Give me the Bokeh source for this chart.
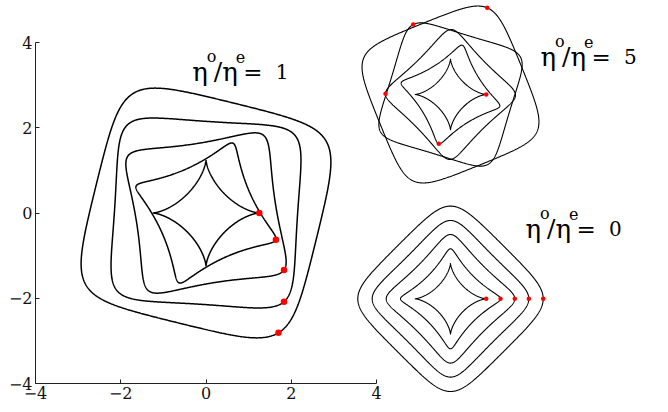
import numpy as np
from bokeh.plotting import figure
from bokeh.models import Range1d, FixedTicker
from bokeh.embed import file_html
from bokeh.resources import INLINE
from bokeh.core.properties import value

# ---------------- data ----------------
# tracked tip (red dot) of every contour, in each panel's own units
# (the innermost contour is an astroid of radius 1.25)
main_tip_x = [1.25, 1.64, 1.83, 1.83, 1.70]          # eta_o/eta_e = 1
main_tip_y = [0.00, -0.63, -1.34, -2.08, -2.81]
five_tip_x = [1.25, -0.41, -2.276, -1.306, 1.285]    # eta_o/eta_e = 5
five_tip_y = [0.00, -1.726, 0.025, 2.451, 3.036]
zero_tip_x = [1.25, 1.751, 2.251, 2.742, 3.246]      # eta_o/eta_e = 0
zero_tip_y = [0.00, 0.00, 0.00, 0.00, 0.00]
# cusp (e^{-3it}) coefficient of each contour
main_cusp = [0.3125, 0.3125, 0.3125, 0.3125, 0.3125]
five_cusp = [0.3125, 0.3125, 0.3125, 0.3125, 0.3125]
zero_cusp = [0.3125, 0.3125, 0.3125, 0.3125, 0.3125]

ratio_labels = ["1", "5", "0"]
x_ticks = [-4, -2, 0, 2, 4]
y_ticks = [-4, -2, 0, 2, 4]
tick_labels = ["\u22124", "\u22122", "0", "2", "4"]

# ---------------- layout ----------------
S = 42.625            # px per unit, main axes
X0 = 35               # screen column of x = -4
Y0 = 383              # screen row of y = -4
FW, FH = 668, 412
SI = 28.56            # px per unit, insets
FONT = "DejaVu Serif"

p = figure(frame_width=FW, frame_height=FH,
           x_range=Range1d(-4 - X0 / S, -4 + (FW - X0) / S),
           y_range=Range1d(-4 - (FH - Y0) / S, -4 + Y0 / S),
           output_backend="svg", toolbar_location=None,
           min_border_left=0, min_border_bottom=0, min_border_top=0, min_border_right=0)
p.outline_line_color = None
p.xgrid.visible = False
p.ygrid.visible = False
p.background_fill_color = "white"
p.border_fill_color = "white"

for ax, ticks in ((p.xaxis, x_ticks), (p.yaxis, y_ticks)):
    ax.bounds = (-4, 4)
    ax.fixed_location = -4
    ax.ticker = FixedTicker(ticks=ticks)
    ax.major_label_overrides = {t: l for t, l in zip(ticks, tick_labels)}
    ax.minor_tick_line_color = None
    ax.major_tick_in = 4
    ax.major_tick_out = 0
    ax.axis_line_color = "#222222"
    ax.major_tick_line_color = "#222222"
    ax.major_label_text_font = FONT
    ax.major_label_text_font_size = "16px"
    ax.major_label_text_color = "#111111"
p.xaxis.major_label_standoff = 3
p.yaxis.major_label_standoff = 3

# inset ranges (library scales), centred on each inset (frame px from left/bottom)
def add_inset(name, cx, cy):
    p.extra_x_ranges[name + "x"] = Range1d(-cx / SI, (FW - cx) / SI)
    p.extra_y_ranges[name + "y"] = Range1d(-cy / SI, (FH - cy) / SI)

add_inset("five", 450, FH - 94)
add_inset("zero", 450, FH - 298.3)

t = np.linspace(0, 2 * np.pi, 900)

def contour(tx, ty, c):
    r = np.hypot(tx, ty)
    th = np.arctan2(ty, tx)
    a = r - c
    z = np.exp(1j * th) * (a * np.exp(1j * t) + c * np.exp(-3j * t))
    return z.real, z.imag

panels = [
    (main_tip_x, main_tip_y, main_cusp, {}, 1.5, 6.5),
    (five_tip_x, five_tip_y, five_cusp, dict(x_range_name="fivex", y_range_name="fivey"), 1.1, 4.5),
    (zero_tip_x, zero_tip_y, zero_cusp, dict(x_range_name="zerox", y_range_name="zeroy"), 1.1, 4.5),
]
for tx, ty, cc, kw, lw, ds in panels:
    for i in range(len(tx)):
        xs, ys = contour(tx[i], ty[i], cc[i])
        p.line(xs, ys, line_color="black", line_width=lw, **kw)
for tx, ty, cc, kw, lw, ds in panels:
    p.scatter(tx, ty, size=ds, fill_color="#ff0000", line_color=None, **kw)

# titles  eta^o/eta^e= N  (ink-left screen x, baseline screen y)
title_pos = [(191.7, 71.0), (540.0, 56.0), (525.0, 228.3)]
pieces = [("\u03b7", 0, 0, 26), ("o", 14.5, 15, 16), ("/", 21.5, 0, 25),
          ("\u03b7", 30, 0, 26), ("e", 43.5, 15, 16), ("=", 51.0, 0, 23)]
for (sx, sy), lab in zip(title_pos, ratio_labels):
    x0 = -4 + (sx - X0) / S
    y0 = -4 + (Y0 - sy) / S
    for txt, dx, dy, fs in pieces + [(lab, 83.5, 0, 20)]:
        p.text(x=[x0 + dx / S], y=[y0 + dy / S], text=[txt],
               text_font=value(FONT), text_font_size=f"{fs}px",
               text_color="black", text_align="left", text_baseline="alphabetic")

open("out.html", "w").write(file_html(p, INLINE))
